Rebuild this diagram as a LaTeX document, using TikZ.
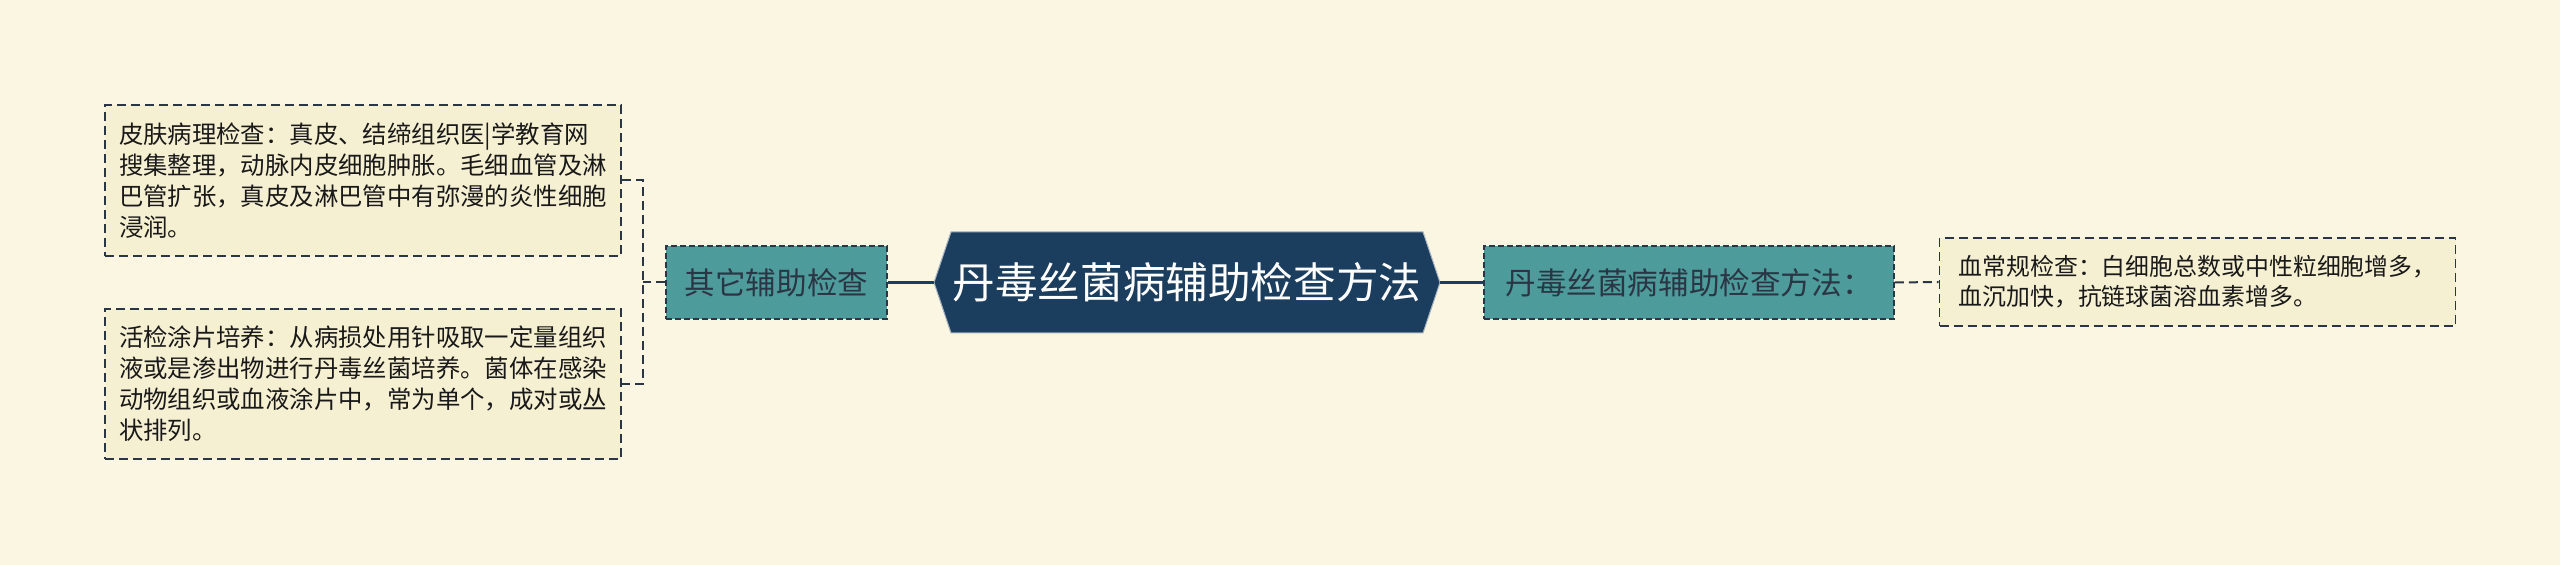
\documentclass[tikz,border=0pt]{standalone}
\usepackage{fontspec}
\setmainfont{Noto Sans CJK SC}

\definecolor{bgcream}{HTML}{FBF6E1}
\definecolor{boxfill}{HTML}{F6F0D3}
\definecolor{tealfill}{HTML}{4E9B9B}
\definecolor{navy}{HTML}{1B3D5E}
\definecolor{inkdark}{HTML}{2A3645}

\tikzset{
	leaf/.style={draw=inkdark, fill=boxfill, line width=0.9pt, dash pattern=on 4.5pt off 2.5pt,
		text=black!90, align=left, minimum width=258pt, inner xsep=6.5pt,
		font=\fontsize{12.2pt}{15.5pt}\selectfont},
	branch/.style={draw=inkdark, fill=tealfill, line width=0.9pt, dash pattern=on 3pt off 1.5pt,
		text=inkdark, minimum height=36.5pt, inner xsep=6pt,
		font=\fontsize{15.3pt}{18pt}\selectfont},
	solidlink/.style={draw=navy, line width=1.6pt},
	dashlink/.style={draw=inkdark, line width=1pt, dash pattern=on 4.5pt off 2.5pt}
}

\begin{document}
\begin{tikzpicture}[x=0.5pt,y=-0.5pt]
		\fill[bgcream] (0,0) rectangle (2560,565);
		\fill[navy, draw=navy!40!white, line width=0.5pt] (951,232) -- (1423,232) -- (1440,282.5) -- (1423,333) -- (951,333) -- (934,282.5) -- cycle;
		\node[text=white, minimum width=253pt, minimum height=50.5pt, inner sep=0pt, font=\fontsize{21.3pt}{24pt}\selectfont] (root) at (1187,282.5) {丹毒丝菌病辅助检查方法};
		\node[branch, minimum width=110.5pt] (other) at (776.5,282.5) {其它辅助检查};
		\node[branch, minimum width=205pt] (method) at (1689,282.5) {丹毒丝菌病辅助检查方法：};
		\node[leaf, minimum height=75.5pt] (skin) at (363,180.5) {皮肤病理检查：真皮、结缔组织医|学教育网\\搜集整理，动脉内皮细胞肿胀。毛细血管及淋\\巴管扩张，真皮及淋巴管中有弥漫的炎性细胞\\浸润。};
		\node[leaf, minimum height=75pt] (biopsy) at (363,384) {活检涂片培养：从病损处用针吸取一定量组织\\液或是渗出物进行丹毒丝菌培养。菌体在感染\\动物组织或血液涂片中，常为单个，成对或丛\\状排列。};
		\node[leaf, minimum height=44pt, font=\fontsize{11.95pt}{15pt}\selectfont] (blood) at (2197.5,282) {血常规检查：白细胞总数或中性粒细胞增多，\\血沉加快，抗链球菌溶血素增多。};
		\coordinate (fork) at (643,282.5);
		\draw[solidlink] (root.west) -- (other.east);
		\draw[solidlink] (root.east) -- (method.west);
		\draw[dashlink] (method.east) -- (blood.west);
		\draw[dashlink] (other.west) -- (fork);
		\draw[dashlink] (skin.east) -| (fork) |- (biopsy.east);
	\end{tikzpicture}
\end{document}
